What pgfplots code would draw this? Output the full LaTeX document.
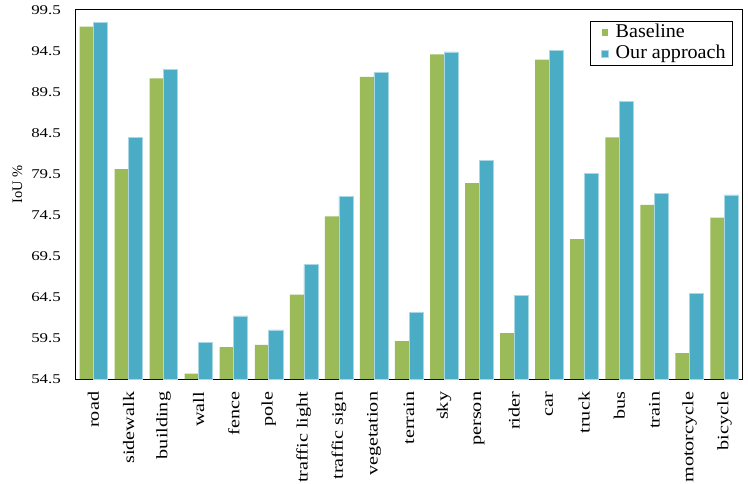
\documentclass[border=0pt]{standalone}
\usepackage{fontspec}
\setmainfont{Liberation Serif}
\newfontfamily\xlabfont[FakeStretch=1.26]{Liberation Serif}
\newfontfamily\legfont[FakeStretch=1.03]{Liberation Serif}
\usepackage{pgfplots}
\pgfplotsset{compat=1.18}
\definecolor{cgreen}{HTML}{9BBB59}
\definecolor{cblue}{HTML}{4BACC6}
\definecolor{cblueedge}{HTML}{A8D8E6}
\begin{document}
\begin{tikzpicture}
\begin{axis}[
  scale only axis,
  width=666bp, height=369bp,
  ybar=0pt, bar width=0.4,
  xmin=-0.5, xmax=18.5,
  ymin=54.5, ymax=99.5,
  ytick={54.5,59.5,...,99.5},
  xtick={0,...,18},
  xticklabels={road,sidewalk,building,wall,fence,pole,traffic light,traffic sign,vegetation,terrain,sky,person,rider,car,truck,bus,train,motorcycle,bicycle},
  major tick length=0pt,
  axis line style={black, line width=1bp},
  /pgf/number format/assume math mode=true,
  /pgf/number format/fixed, /pgf/number format/precision=1, /pgf/number format/fixed zerofill,
  yticklabel style={font=\xlabfont\fontsize{13.4bp}{15bp}\selectfont, anchor=east, inner sep=0pt, xshift=-15bp},
  xticklabel style={font=\xlabfont\fontsize{16bp}{18bp}\selectfont, rotate=90, anchor=east, inner sep=0pt, inner xsep=12.7bp},
  ylabel={IoU \%},
  ylabel style={font=\fontsize{14.5bp}{16bp}\selectfont, at={(axis description cs:-0.0878,0.528)}, anchor=center},
  legend style={font=\legfont\fontsize{19.5bp}{21bp}\selectfont, at={(rel axis cs:1,1)}, anchor=north east, xshift=-9bp, yshift=-10.7bp, draw=black, line width=0.8bp, inner xsep=3bp, inner ysep=1.2bp, row sep=0bp, nodes={inner xsep=4bp, inner ysep=2bp, text height=13bp, text depth=4bp}},
  legend cell align=left,
  legend image code/.code={\path (-11bp,0bp) (6.8bp,0bp); \fill[#1] (-3bp,-3.4bp) rectangle (3.8bp,3.4bp);},
]
\addplot[fill=cgreen, draw=none] coordinates {
(0,97.46) (1,80.1) (2,91.17) (3,55.15) (4,58.4) (5,58.65) (6,64.8) (7,74.34) (8,91.33) (9,59.13) (10,94.1) (11,78.4) (12,60.1) (13,93.44) (14,71.57) (15,83.97) (16,75.72) (17,57.67) (18,74.17)};
\addplot[fill=cblue, draw=cblueedge, line width=0.6bp] coordinates {
(0,98.0) (1,83.97) (2,92.22) (3,58.93) (4,62.2) (5,60.5) (6,68.45) (7,76.78) (8,91.9) (9,62.6) (10,94.38) (11,81.2) (12,64.66) (13,94.58) (14,79.62) (15,88.4) (16,77.1) (17,64.95) (18,76.94)};
\legend{Baseline, Our approach}
\end{axis}
\pgfresetboundingbox
\path (current axis.south west) ++(-76bp,-105bp) rectangle ++(748bp,484bp);
\end{tikzpicture}
\end{document}
